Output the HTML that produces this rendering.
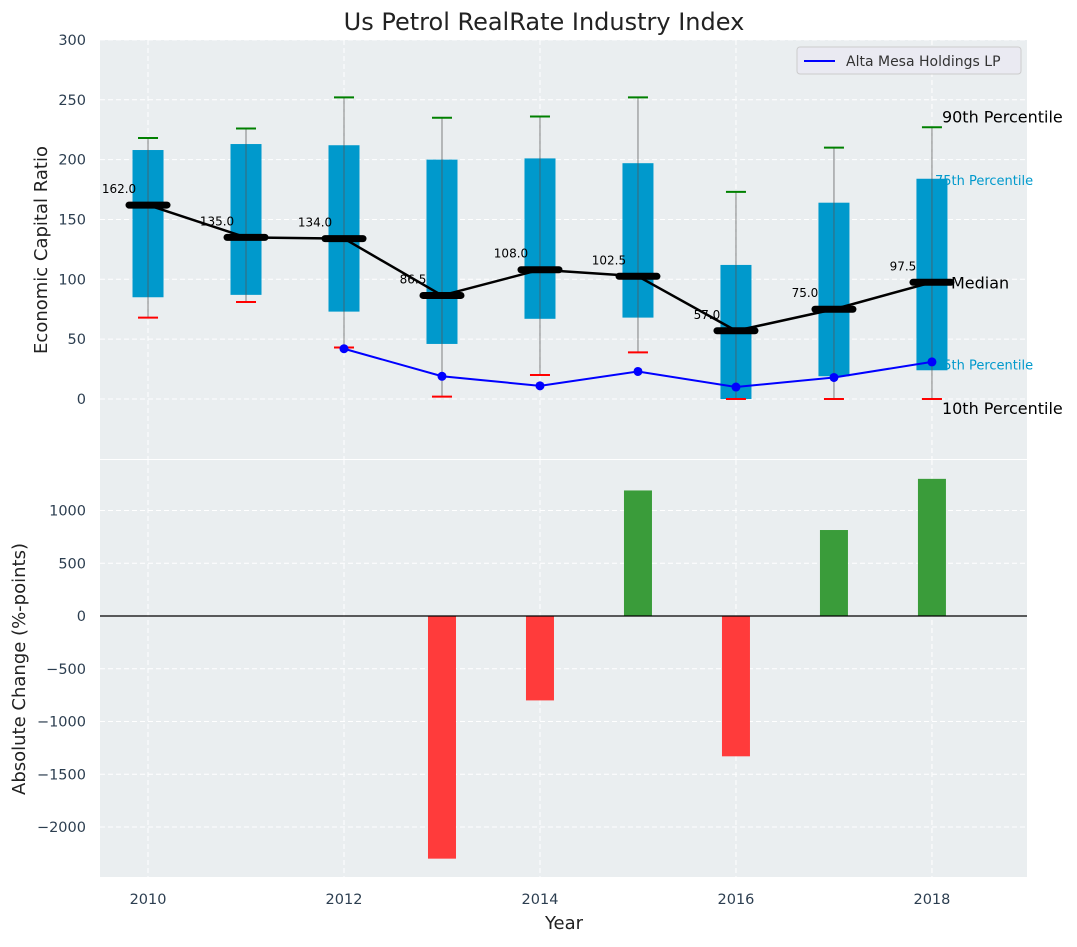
<!DOCTYPE html>
<html><head><meta charset="utf-8"><style>
body{margin:0;background:#fff;}
svg text{font-family:"DejaVu Sans","Liberation Sans",sans-serif;}
</style></head><body>
<svg id="chart" width="1077" height="942" xmlns="http://www.w3.org/2000/svg"></svg>
<script>
const years=[2010,2011,2012,2013,2014,2015,2016,2017,2018];
const q1=[85,87,73,46,67,68,0,19,24];
const q3=[208,213,212,200,201,197,112,164,184];
const p10=[68,81,43,2,20,39,0,0,0];
const p90=[218,226,252,235,236,252,173,210,227];
const medians=[162,135,134,86.5,108,102.5,57,75,97.5];
const lineYears=[2012,2013,2014,2015,2016,2017,2018];
const lineVals=[42,19,11,23,10,18,31];
const barYears=[2013,2014,2015,2016,2017,2018];
const barVals=[-2300,-800,1190,-1330,815,1300];
const topTicks=[0,50,100,150,200,250,300];
const botTicks=[-2000,-1500,-1000,-500,0,500,1000];
const xTicks=[2010,2012,2014,2016,2018];

const NS="http://www.w3.org/2000/svg";
const svg=document.getElementById('chart');
function el(tag,attrs,parent,text){const e=document.createElementNS(NS,tag);for(const k in attrs)e.setAttribute(k,attrs[k]);if(text!==undefined)e.textContent=text;(parent||svg).appendChild(e);return e;}
const L=100,R=1027;
const x=v=>L+(v-2009.51)/(2018.97-2009.51)*(R-L);
const yT=v=>399-v*1.197;
const yB=v=>616-v*0.1055;

let e=el('rect',{x:L,y:40,width:R-L,height:419,fill:'#eaeef0'});

e=el('rect',{x:L,y:460,width:R-L,height:417,fill:'#eaeef0'});

topTicks.forEach(t=>{el('line',{x1:L,x2:R,y1:yT(t),y2:yT(t),stroke:'#fff','stroke-dasharray':'5,3','stroke-width':1});
 const tx=el('text',{x:L-14,y:yT(t)+5,'text-anchor':'end','font-size':14.5,fill:'#2c3e50'},svg,t);
 });
botTicks.forEach(t=>{el('line',{x1:L,x2:R,y1:yB(t),y2:yB(t),stroke:'#fff','stroke-dasharray':'5,3','stroke-width':1});
 const tx=el('text',{x:L-14,y:yB(t)+5,'text-anchor':'end','font-size':14.5,fill:'#2c3e50'},svg,t<0?'\u2212'+(-t):t);
 });
xTicks.forEach(t=>{el('line',{x1:x(t),x2:x(t),y1:40,y2:459,stroke:'#fff','stroke-dasharray':'5,3'});
 el('line',{x1:x(t),x2:x(t),y1:460,y2:877,stroke:'#fff','stroke-dasharray':'5,3'});
 const tx=el('text',{x:x(t),y:904,'text-anchor':'middle','font-size':14.5,fill:'#2c3e50'},svg,t);
 });

const last=years.length-1;
el('text',{x:x(years[last])+3,y:yT(q3[last])+6,'font-size':13,fill:'#0099cc'},svg,'75th Percentile');
el('text',{x:x(years[last])+3,y:yT(q1[last])-1,'font-size':13,fill:'#0099cc'},svg,'25th Percentile');

years.forEach((yr,i)=>{
 const cx=x(yr),w=31;
 const b=el('rect',{x:cx-w/2,y:yT(q3[i]),width:w,height:yT(q1[i])-yT(q3[i]),fill:'#0099cc'});
 
 el('line',{x1:cx,x2:cx,y1:yT(p90[i]),y2:yT(p10[i]),stroke:'#555','stroke-opacity':0.6,'stroke-width':1.2});
 const c1=el('line',{x1:cx-10,x2:cx+10,y1:yT(p90[i]),y2:yT(p90[i]),stroke:'green','stroke-width':2});
 
 const c2=el('line',{x1:cx-10,x2:cx+10,y1:yT(p10[i]),y2:yT(p10[i]),stroke:'red','stroke-width':2});
 
});
let pts=years.map((yr,i)=>x(yr)+','+yT(medians[i])).join(' ');
e=el('polyline',{points:pts,fill:'none',stroke:'#000','stroke-width':2.5});

years.forEach((yr,i)=>{
 const m=el('line',{x1:x(yr)-19,x2:x(yr)+19,y1:yT(medians[i]),y2:yT(medians[i]),stroke:'#000','stroke-width':7,'stroke-linecap':'round'});
 
 const t=el('text',{x:x(yr)-29,y:yT(medians[i])-12,'text-anchor':'middle','font-size':12,fill:'#000'},svg,medians[i].toFixed(1));
 
});
pts=lineYears.map((yr,i)=>x(yr)+','+yT(lineVals[i])).join(' ');
e=el('polyline',{points:pts,fill:'none',stroke:'blue','stroke-width':2});

lineYears.forEach((yr,i)=>{const c=el('circle',{cx:x(yr),cy:yT(lineVals[i]),r:4.5,fill:'blue'});
 });
const lx=x(years[last])+10;
el('text',{x:lx,y:yT(p90[last])-5,'font-size':16,fill:'#000'},svg,'90th Percentile');
el('text',{x:x(years[last])+19,y:yT(medians[last])+6,'font-size':16,fill:'#000'},svg,'Median');
el('text',{x:lx,y:yT(p10[last])+15,'font-size':16,fill:'#000'},svg,'10th Percentile');
const lg=el('g',{});
el('rect',{x:797,y:47,width:224,height:27,rx:3,fill:'#eaeaf2',stroke:'#ccc'},lg);
el('line',{x1:804,x2:835,y1:61,y2:61,stroke:'blue','stroke-width':2},lg);
el('text',{x:846,y:66,'font-size':14,fill:'#333'},lg,'Alta Mesa Holdings LP');

barYears.forEach((yr,i)=>{const v=barVals[i];
 const b=el('rect',{x:x(yr)-14,y:Math.min(yB(v),yB(0)),width:28,height:Math.abs(yB(v)-yB(0)),fill:v>=0?'#3a9c3a':'#ff3b3b'});
 });
el('line',{x1:L,x2:R,y1:yB(0),y2:yB(0),stroke:'#000','stroke-width':1.2});

el('text',{x:544,y:30,'text-anchor':'middle','font-size':24,fill:'#222'},svg,'Us Petrol RealRate Industry Index');
el('text',{x:564,y:929,'text-anchor':'middle','font-size':18,fill:'#222'},svg,'Year');
el('text',{x:0,y:0,transform:'translate(47,250) rotate(-90)','text-anchor':'middle','font-size':18,fill:'#222'},svg,'Economic Capital Ratio');
el('text',{x:0,y:0,transform:'translate(25,669) rotate(-90)','text-anchor':'middle','font-size':18,fill:'#222'},svg,'Absolute Change (%-points)');
</script>
</body></html>
